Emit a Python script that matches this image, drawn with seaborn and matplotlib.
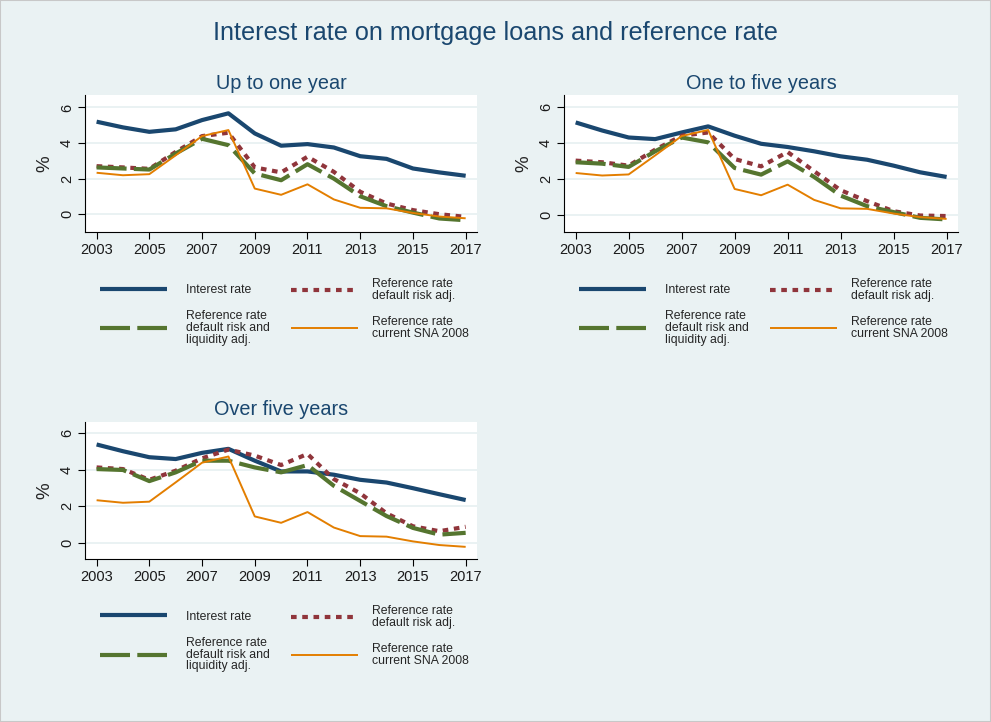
import matplotlib
matplotlib.use("Agg")
import matplotlib.pyplot as plt
from matplotlib.lines import Line2D
from matplotlib.legend import Legend
from matplotlib.patches import Rectangle
from matplotlib.transforms import offset_copy
import numpy as np
import pandas as pd
import seaborn as sns

# data (percent)
years = list(range(2003, 2018))
panels = ["Up to one year", "One to five years", "Over five years"]

# reference rate current SNA 2008 is the same in every panel
sna_2008 = [2.33, 2.19, 2.25, 3.31, 4.39, 4.73, 1.44, 1.09, 1.68, 0.83, 0.36, 0.33, 0.07, -0.13, -0.23]

interest_short = [5.20, 4.88, 4.63, 4.77, 5.29, 5.67, 4.54, 3.85, 3.94, 3.75, 3.26, 3.11, 2.57, 2.35, 2.16]
default_short = [2.70, 2.63, 2.55, 3.50, 4.39, 4.58, 2.63, 2.35, 3.23, 2.38, 1.26, 0.60, 0.23, 0.00, -0.15]
liquid_short = [2.63, 2.57, 2.51, 3.41, 4.24, 3.88, 2.29, 1.91, 2.81, 2.00, 1.01, 0.45, 0.09, -0.24, -0.34]

interest_mid = [5.15, 4.70, 4.31, 4.22, 4.59, 4.93, 4.41, 3.96, 3.78, 3.54, 3.26, 3.07, 2.74, 2.37, 2.11]
default_mid = [3.02, 2.93, 2.74, 3.63, 4.41, 4.59, 3.11, 2.70, 3.50, 2.43, 1.37, 0.76, 0.20, -0.04, -0.07]
liquid_mid = [2.93, 2.85, 2.67, 3.54, 4.31, 4.04, 2.61, 2.24, 2.98, 2.11, 1.07, 0.48, 0.15, -0.17, -0.26]

interest_long = [5.39, 5.02, 4.69, 4.59, 4.93, 5.15, 4.50, 3.91, 3.91, 3.73, 3.45, 3.30, 2.99, 2.66, 2.34]
default_long = [4.13, 4.04, 3.45, 3.95, 4.63, 5.11, 4.78, 4.26, 4.87, 3.49, 2.71, 1.61, 0.90, 0.63, 0.87]
liquid_long = [4.04, 3.99, 3.38, 3.86, 4.50, 4.50, 4.13, 3.86, 4.26, 3.12, 2.29, 1.46, 0.81, 0.44, 0.54]

series_names = ["Interest rate",
                "Reference rate\ndefault risk adj.",
                "Reference rate\ndefault risk and\nliquidity adj.",
                "Reference rate\ncurrent SNA 2008"]

panel_values = {
    "Up to one year": [interest_short, default_short, liquid_short, sna_2008],
    "One to five years": [interest_mid, default_mid, liquid_mid, sna_2008],
    "Over five years": [interest_long, default_long, liquid_long, sna_2008],
}

rows = []
for p in panels:
    for name, vals in zip(series_names, panel_values[p]):
        for yr, v in zip(years, vals):
            rows.append({"panel": p, "series": name, "year": yr, "rate": v})
df = pd.DataFrame(rows)

# Stata s2color look
bg = "#EAF2F3"
title_col = "#1A476F"
styles = {
    series_names[0]: dict(color="#1A476F", lw=3.0, ls="-"),
    series_names[1]: dict(color="#90353B", lw=3.0, ls=(0, (1.35, 1.35))),
    series_names[2]: dict(color="#55752F", lw=3.0, ls=(0, (7.2, 1.75))),
    series_names[3]: dict(color="#E37E00", lw=1.4, ls="-"),
}

sns.set_style("white")
plt.rcParams["font.family"] = ["Liberation Sans", "DejaVu Sans"]

W, H = 991, 722
fig = plt.figure(figsize=(W / 100, H / 100), dpi=100, facecolor=bg)

# axes boxes in pixels: left, top, right, bottom
boxes = {
    "Up to one year": (85, 95, 477, 232),
    "One to five years": (564, 95, 958, 232),
    "Over five years": (85, 421.7, 477, 558.7),
}
ylims = {
    "Up to one year": (-1.0, 6.7),
    "One to five years": (-0.96, 6.68),
    "Over five years": (-0.88, 6.64),
}

fig.text(0.5, 1 - 33 / H, "Interest rate on mortgage loans and reference rate",
         ha="center", va="center", fontsize=18.2, color=title_col)

for p in panels:
    l, t, r, b = boxes[p]
    ax = fig.add_axes([l / W, 1 - b / H, (r - l) / W, (b - t) / H])
    ax.set_facecolor("white")
    sub = df[df["panel"] == p]
    for name in series_names:
        st = styles[name]
        sns.lineplot(data=sub[sub["series"] == name], x="year", y="rate", ax=ax,
                     color=st["color"], linewidth=st["lw"], linestyle=st["ls"],
                     legend=False, solid_capstyle="butt", dash_capstyle="butt")
    ax.set_xlim(2002.56, 2017.43)
    ax.set_ylim(*ylims[p])
    ax.set_xticks(range(2003, 2018, 2))
    ax.set_yticks([0, 2, 4, 6])
    ax.yaxis.grid(True, color=bg, lw=1.4)
    ax.set_axisbelow(True)
    for s in ["top", "right"]:
        ax.spines[s].set_visible(False)
    for s in ["left", "bottom"]:
        ax.spines[s].set_color("black")
        ax.spines[s].set_linewidth(0.8)
    ax.tick_params(axis="both", direction="out", length=5, width=0.8, color="black",
                   labelsize=10.5, labelcolor="#1a1a1a", pad=3, left=True, bottom=True)
    ax.tick_params(axis="y", labelrotation=90)
    for lab in ax.get_yticklabels():
        lab.set_va("center")
    ax.set_xlabel("")
    ax.set_ylabel("%", fontsize=13.5, labelpad=5)
    ax.set_title(p, fontsize=14.3, color=title_col, pad=4.5)

    # legend laid out like Stata: two columns, rows centred on the key line
    spots = [(15, -58), (206, -58), (15, -96), (206, -96)]
    for name, (dx, dy) in zip(series_names, spots):
        st = styles[name]
        h = Line2D([], [], color=st["color"], lw=st["lw"], ls=st["ls"],
                   solid_capstyle="butt", dash_capstyle="butt")
        tr = offset_copy(ax.transAxes, fig=fig, x=dx, y=dy, units="dots")
        pad = 1.5 if dx < 100 else 1.15
        leg = Legend(ax, [h], [name], loc="center left", bbox_to_anchor=(0, 0),
                     bbox_transform=tr, frameon=False, borderpad=0, borderaxespad=0,
                     handlelength=5.5, handletextpad=pad, fontsize=8.8)
        for txt in leg.get_texts():
            txt.set_linespacing(0.97)
        ax.add_artist(leg)

fig.patches.append(Rectangle((0, 0), 1, 1, transform=fig.transFigure, fill=False,
                             edgecolor="#c8c8c8", lw=1.5))

fig.savefig("out.png", dpi=100, facecolor=bg)
